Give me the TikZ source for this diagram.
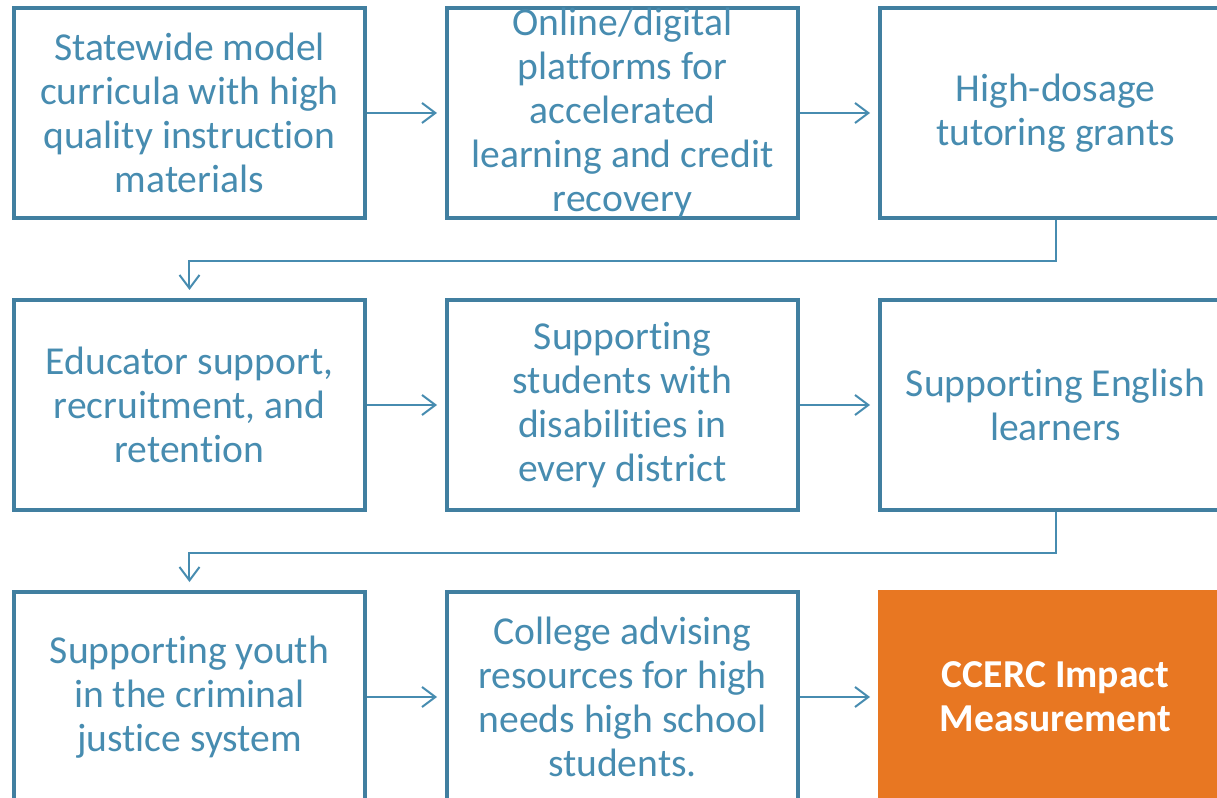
\documentclass[tikz,border=0pt]{standalone}
\usepackage{fontspec}
\setmainfont{Carlito}[Ligatures={NoCommon,NoContextual,NoRare}, Contextuals=NoAlternate]
\usetikzlibrary{arrows.meta, positioning}
\definecolor{boxblue}{HTML}{417FA0}
\definecolor{textblue}{HTML}{478CB0}
\definecolor{ccercorange}{HTML}{E87722}

\begin{document}
\begin{tikzpicture}[node distance=219pt and 324.75pt, on grid, semithick]
	\tikzstyle{stage} = [draw=boxblue, line width=3pt, rectangle, minimum width=263.25pt, minimum height=157.5pt, inner ysep=-2pt, align=center, text=textblue, font={\fontsize{29.7}{33}\selectfont}];
	\tikzstyle{goal} = [stage, draw=ccercorange, fill=ccercorange, text=white, font={\fontsize{29.7}{33}\selectfont\bfseries}];
	\tikzstyle{link} = [textblue, line width=1.5pt, -{Straight Barb[length=10pt, width=15pt]}, shorten >=6pt];

	\useasboundingbox (-142.125pt,84.75pt) rectangle (770.625pt,-513.75pt);

	\node[stage](curric) {Statewide model\\curricula with high\\quality instruction\\materials};
	\node[stage](online) [right=of curric]{Online/digital\\platforms for\\accelerated\\learning and credit\\recovery};
	\node[stage](tutor) [right=of online]{High-dosage\\tutoring grants};
	\node[stage](educ) [below=of curric]{Educator support,\\recruitment, and\\retention};
	\node[stage](disab) [right=of educ]{Supporting\\students with\\disabilities in\\every district};
	\node[stage](english) [right=of disab]{Supporting English\\learners};
	\node[stage](youth) [below=of educ]{Supporting youth\\in the criminal\\justice system};
	\node[stage](college) [right=of youth]{College advising\\resources for high\\needs high school\\students.};
	\node[goal](ccerc) [right=of college]{CCERC Impact\\Measurement};

	\draw[link] (curric) -- (online);
	\draw[link] (online) -- (tutor);
	\draw[link] (tutor.south) -- ++(0,-30.5pt) -| (educ.north);
	\draw[link] (educ) -- (disab);
	\draw[link] (disab) -- (english);
	\draw[link] (english.south) -- ++(0,-30.5pt) -| (youth.north);
	\draw[link] (youth) -- (college);
	\draw[link] (college) -- (ccerc);
\end{tikzpicture}
\end{document}
